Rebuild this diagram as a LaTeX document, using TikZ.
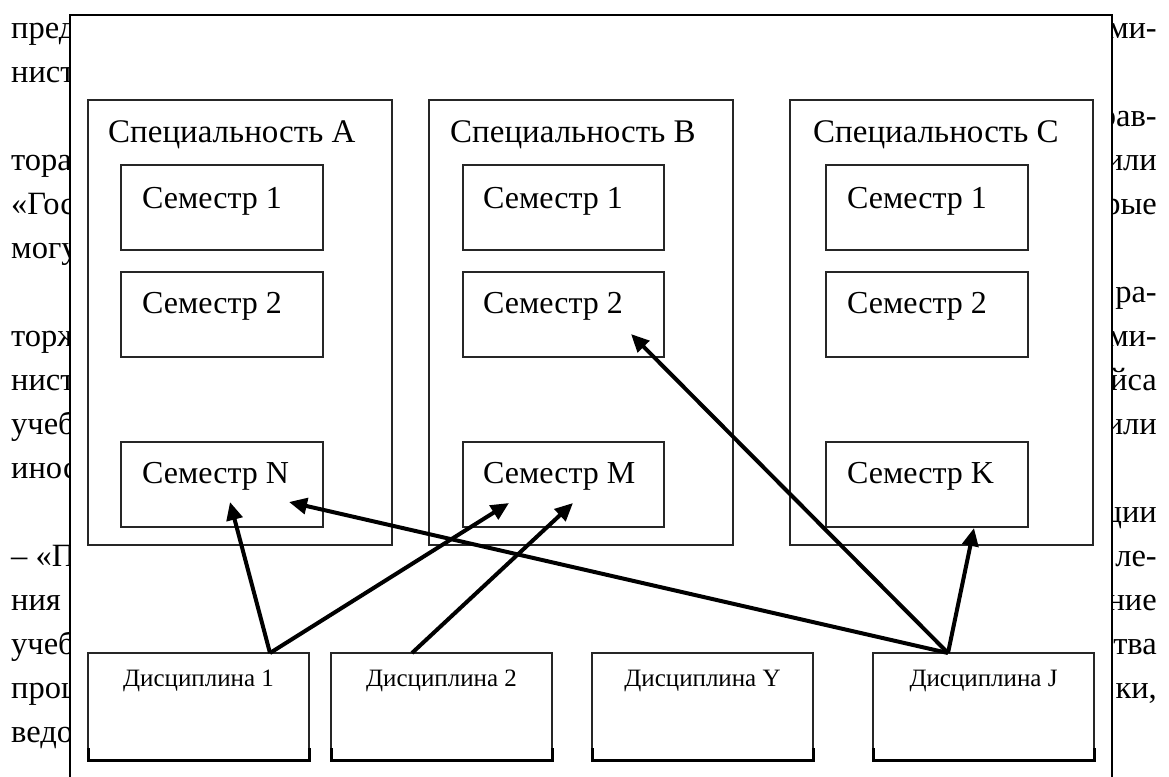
\documentclass[tikz,border=0pt]{standalone}
\usepackage{fontspec}
\setmainfont{Liberation Serif}
\usetikzlibrary{arrows.meta}
\begin{document}
\begin{tikzpicture}[x=1pt,y=-1pt,
  bgl/.style={font=\fontsize{32.5}{39}\selectfont, inner sep=0pt, anchor=base west},
  bgr/.style={font=\fontsize{32.5}{39}\selectfont, inner sep=0pt, anchor=base east},
  box/.style={draw=black!85, line width=1.8pt, rectangle, inner sep=0pt, outer sep=0pt, anchor=north west},
  specbox/.style={box, minimum width=304pt, minimum height=445pt},
  sembox/.style={box, minimum width=202pt, minimum height=85pt},
  discbox/.style={box, minimum width=221pt, minimum height=107pt},
  speclbl/.style={font=\fontsize{33}{39}\selectfont, inner sep=0pt, anchor=base west},
  semlbl/.style={font=\fontsize{32}{38}\selectfont, inner sep=0pt, anchor=base west},
  disclbl/.style={font=\fontsize{25}{30}\selectfont, inner sep=0pt, anchor=base},
  arr/.style={line width=4pt, -{Triangle[length=18pt,width=16pt]}},
  thickbottom/.style={line width=3pt, line cap=butt}
]
\useasboundingbox (0,0) rectangle (1169,776);
\fill[white] (0,0) rectangle (1169,776);

% background page text (partly hidden by the frame)
\node[bgl] (l0)  at (11,38)  {пред};
\node[bgl] (l1)  at (11,82)  {нист};
\node[bgl] (l3)  at (11,170) {тора};
\node[bgl] (l4)  at (11,214) {«Гос};
\node[bgl] (l5)  at (11,258) {могу};
\node[bgl] (l7)  at (11,346) {торж};
\node[bgl] (l8)  at (11,390) {нист};
\node[bgl] (l9)  at (11,434) {учеб};
\node[bgl] (l10) at (11,478) {инос};
\node[bgl] (l12) at (11,566) {– «П};
\node[bgl] (l13) at (11,610) {ния п};
\node[bgl] (l14) at (11,654) {учеб};
\node[bgl] (l15) at (11,698) {проц};
\node[bgl] (l16) at (11,742) {ведо};

\node[bgr] (r0)  at (1157,38)  {ими-};
\node[bgr] (r2)  at (1157,126) {рав-};
\node[bgr] (r3)  at (1157,170) {или};
\node[bgr] (r4)  at (1157,214) {рые};
\node[bgr] (r6)  at (1157,302) {ра-};
\node[bgr] (r7)  at (1157,346) {ими-};
\node[bgr] (r8)  at (1157,390) {йса};
\node[bgr] (r9)  at (1157,434) {или};
\node[bgr] (r11) at (1157,522) {ции};
\node[bgr] (r12) at (1157,566) {ле-};
\node[bgr] (r13) at (1157,610) {ние};
\node[bgr] (r14) at (1157,654) {тва};
\node[bgr] (r15) at (1157,698) {ки,};

% outer frame
\filldraw[fill=white, draw=black, line width=2.5pt] (70,800) -- (70,15) -- (1112,15) -- (1112,800);

% specialities
\node[specbox] (spA) at (88,100) {};
\node[specbox] (spB) at (429,100) {};
\node[specbox, minimum width=303pt] (spC) at (790,100) {};
\node[speclbl] (tA) at ([shift={(20,42)}]spA.north west) {Специальность A};
\node[speclbl] (tB) at ([shift={(21,42)}]spB.north west) {Специальность B};
\node[speclbl] (tC) at ([shift={(23,42)}]spC.north west) {Специальность C};

% semesters
\node[sembox] (a1) at (121,165) {};
\node[sembox] (a2) at (121,272) {};
\node[sembox] (aN) at (121,442) {};
\node[sembox, minimum width=201pt] (b1) at (463,165) {};
\node[sembox, minimum width=201pt] (b2) at (463,272) {};
\node[sembox, minimum width=201pt] (bM) at (463,442) {};
\node[sembox] (c1) at (826,165) {};
\node[sembox] (c2) at (826,272) {};
\node[sembox] (cK) at (826,442) {};

\node[semlbl] (ta1) at ([shift={(21,43)}]a1.north west) {Семестр 1};
\node[semlbl] (ta2) at ([shift={(21,41)}]a2.north west) {Семестр 2};
\node[semlbl] (taN) at ([shift={(21,41)}]aN.north west) {Семестр N};
\node[semlbl] (tb1) at ([shift={(20,43)}]b1.north west) {Семестр 1};
\node[semlbl] (tb2) at ([shift={(20,41)}]b2.north west) {Семестр 2};
\node[semlbl] (tbM) at ([shift={(20,41)}]bM.north west) {Семестр M};
\node[semlbl] (tc1) at ([shift={(21,43)}]c1.north west) {Семестр 1};
\node[semlbl] (tc2) at ([shift={(21,41)}]c2.north west) {Семестр 2};
\node[semlbl] (tcK) at ([shift={(21,41)}]cK.north west) {Семестр K};

% disciplines
\node[discbox] (d1) at (88,653) {};
\node[discbox] (d2) at (331,653) {};
\node[discbox] (dY) at (592,653) {};
\node[discbox] (dJ) at (873,653) {};
\foreach \d in {d1,d2,dY,dJ}{
  \draw[thickbottom] ([shift={(0,-12)}]\d.south west) -- (\d.south west) -- (\d.south east) -- ([shift={(0,-12)}]\d.south east);
}
\node[disclbl] (td1) at ([shift={(0,33)}]d1.north) {Дисциплина 1};
\node[disclbl] (td2) at ([shift={(0,33)}]d2.north) {Дисциплина 2};
\node[disclbl] (tdY) at ([shift={(0,33)}]dY.north) {Дисциплина Y};
\node[disclbl] (tdJ) at ([shift={(0,33)}]dJ.north) {Дисциплина J};

% connectors
\draw[arr] ([shift={(182,0)}]d1.north west) -- ([shift={(109,-25)}]aN.south west);
\draw[arr] ([shift={(182,0)}]d1.north west) -- ([shift={(46,-24)}]bM.south west);
\draw[arr] ([shift={(81,0)}]d2.north west) -- ([shift={(110,-24)}]bM.south west);
\draw[arr] ([shift={(75,0)}]dJ.north west) -- ([shift={(168,-25)}]aN.south west);
\draw[arr] ([shift={(75,0)}]dJ.north west) -- ([shift={(168,-23)}]b2.south west);
\draw[arr] ([shift={(75,0)}]dJ.north west) -- ([shift={(148,1)}]cK.south west);
\end{tikzpicture}
\end{document}
